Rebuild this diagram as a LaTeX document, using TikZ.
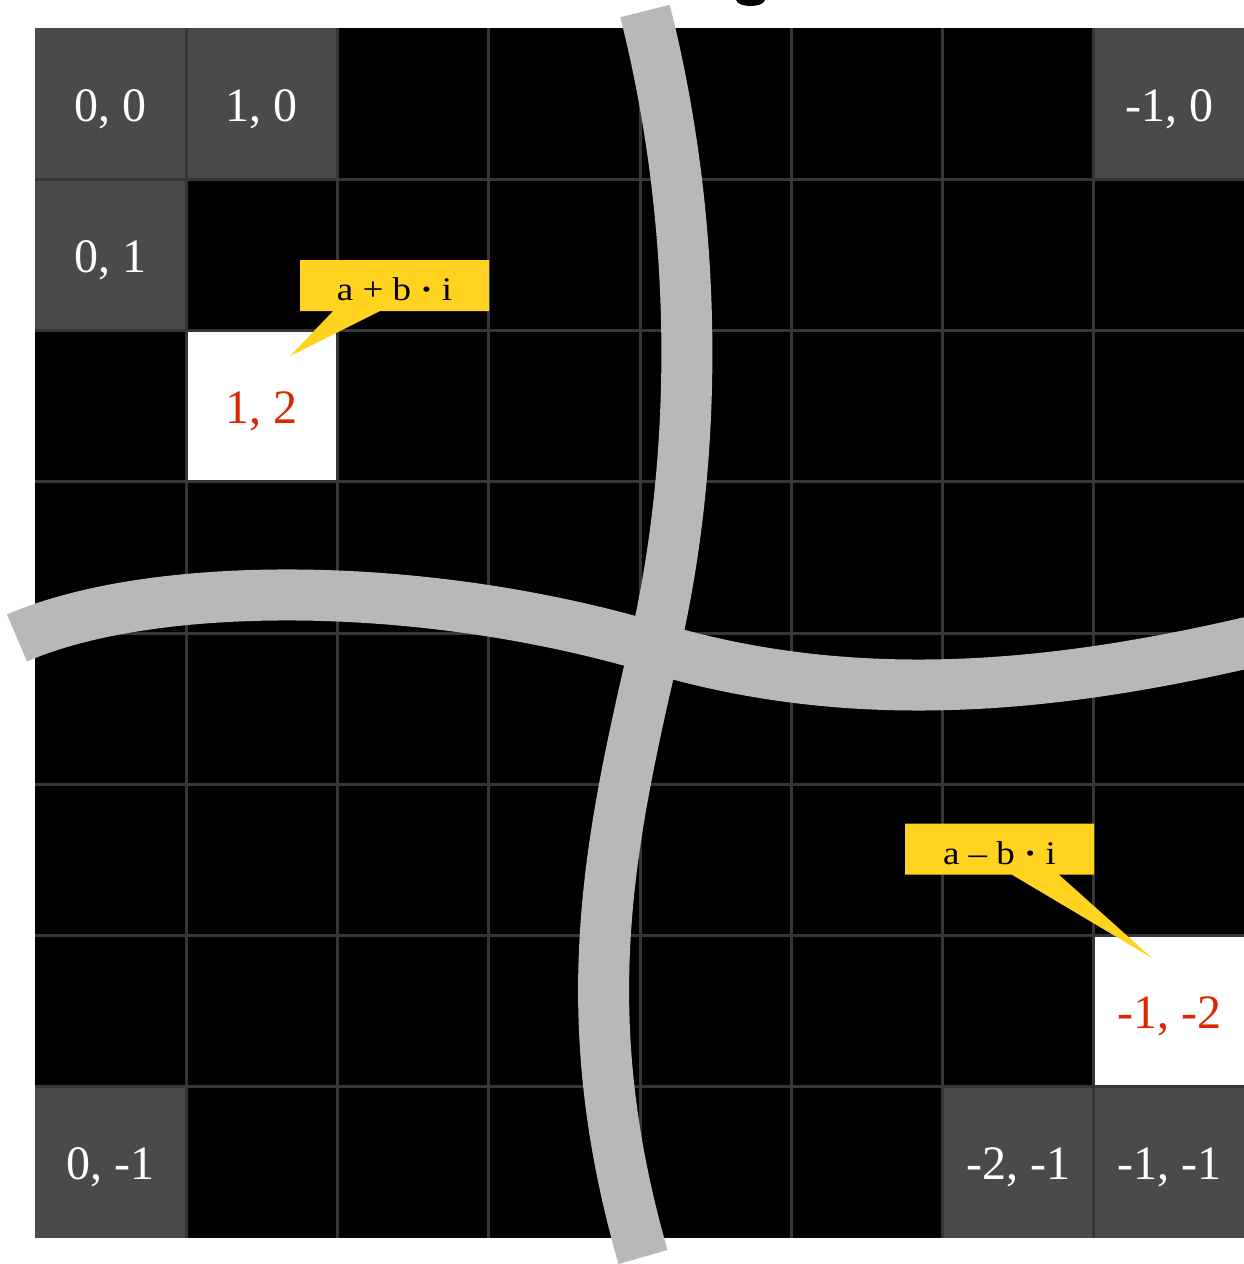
\documentclass[tikz,border=0pt]{standalone}
\usepackage{fontspec}
\setmainfont{Liberation Serif}
\usetikzlibrary{shapes.callouts}
\definecolor{gridc}{RGB}{54,54,54}
\definecolor{cellgray}{RGB}{74,74,74}
\definecolor{hlred}{RGB}{221,38,0}
\definecolor{tagyellow}{RGB}{255,211,32}
\definecolor{bandgray}{RGB}{184,184,184}
\newcommand{\tagtext}[1]{\scalebox{1.12}[1]{#1}}
\begin{document}
\begin{tikzpicture}[x=1pt,y=-1pt,
  cellbox/.style={minimum width=151.25pt, minimum height=151.25pt, inner sep=0pt, text height=35pt, text depth=0pt, font=\fontsize{48}{56}\selectfont},
  graycell/.style={cellbox, fill=cellgray, text=white},
  whitecell/.style={cellbox, fill=white, text=hlred},
  gridline/.style={draw=gridc, line width=3pt},
  tag/.style={rectangle callout, fill=tagyellow, minimum width=189pt, minimum height=51pt, inner sep=0pt, text height=30pt, text depth=0pt, callout pointer width=47pt, font=\fontsize{33}{36}\selectfont},
  band/.style={draw=bandgray, line width=51pt}]
\useasboundingbox (0,0) rectangle (1244,1264);
\clip (0,0) rectangle (1244,1264);
\fill[black] (736,0) .. controls (738,8) and (763,8) .. (765,0) -- cycle;
\fill[black] (35,28) rectangle (1250,1238);
% labelled cells
\node[graycell] (c00) at (110.625,103.625) {0, 0};
\node[graycell] (c10) at (261.875,103.625) {1, 0};
\node[graycell] (c70) at (1169.375,103.625) {-1, 0};
\node[graycell] (c01) at (110.625,254.875) {0, 1};
\node[whitecell] (c12) at (261.875,406.125) {1, 2};
\node[whitecell] (c76) at (1169.375,1011.125) {-1, -2};
\node[graycell] (c07) at (110.625,1162.375) {0, -1};
\node[graycell] (c67) at (1018.125,1162.375) {-2, -1};
\node[graycell] (c77) at (1169.375,1162.375) {-1, -1};
% grid
\foreach \i in {1,...,7} {
  \draw[gridline] ({35+151.25*\i},28) -- ({35+151.25*\i},1238);
  \draw[gridline] (35,{28+151.25*\i}) -- (1250,{28+151.25*\i});
}
% callouts
\node[tag, callout absolute pointer={(290,356)}] (tagplus) at (394.5,285.5) {\tagtext{a + b \textbf{·} i}};
\node[tag, callout absolute pointer={(1152,958)}] (tagminus) at (999.5,849) {\tagtext{a – b \textbf{·} i}};
% bands
\draw[band] (645,11) .. controls (698,220) and (700,450) .. (655,645) .. controls (610,840) and (572,1010) .. (643,1257);
\draw[band] (17,638) .. controls (150,580) and (420,578) .. (655,648) .. controls (880,715) and (1100,680) .. (1300,630);
\end{tikzpicture}
\end{document}
